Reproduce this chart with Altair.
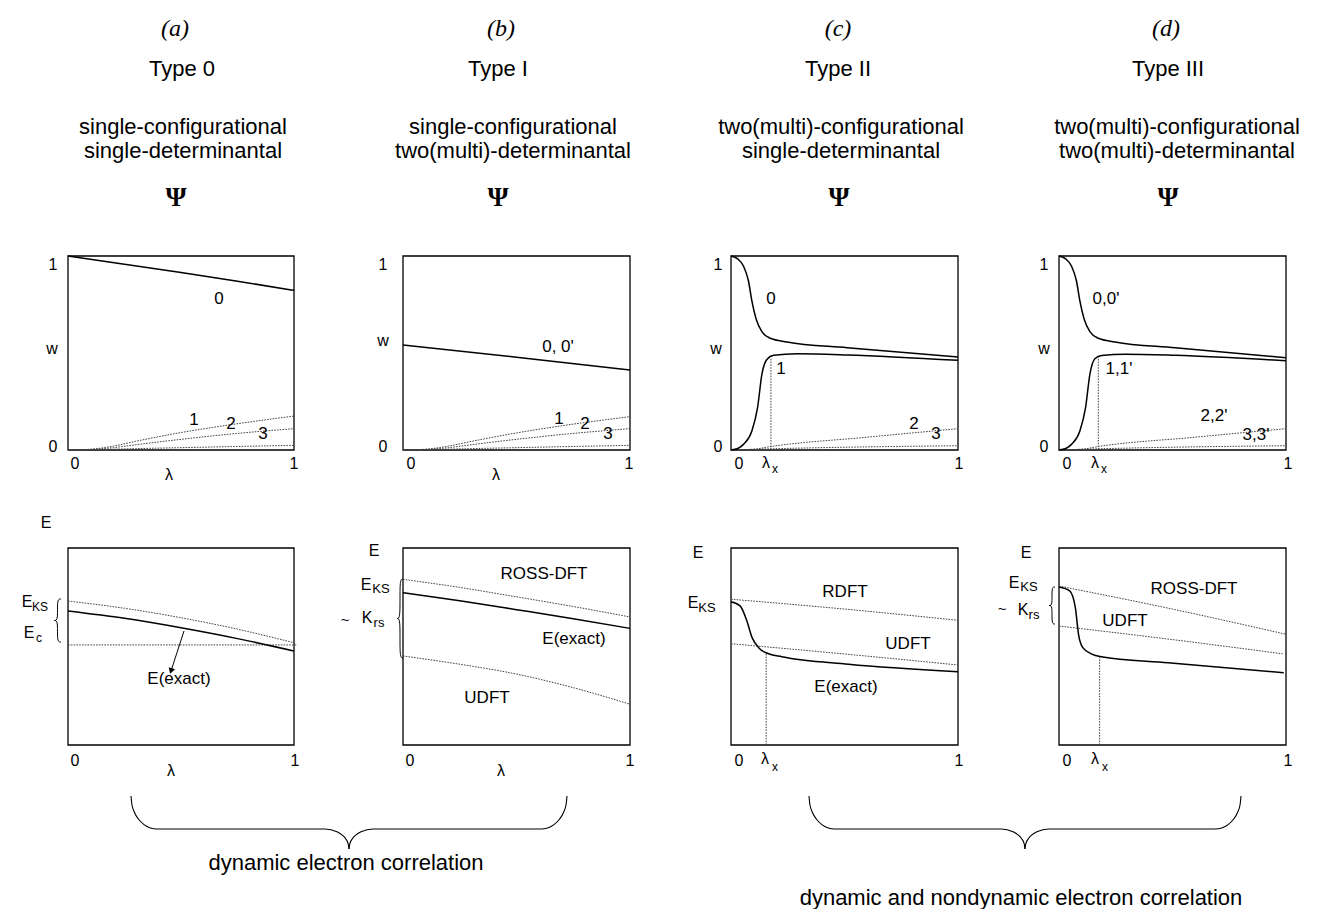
import altair as alt
import pandas as pd

SANS = "Liberation Sans"
SERIF = "Liberation Serif"

# ================= values =================
# ---- top row: configuration weights w(lambda) ----
A_LAM_0 = [0.0, 0.25, 0.5, 0.75, 1.0]
A_W_0 = [1.0, 0.958, 0.915, 0.870, 0.823]
A_LAM_S = [0.0, 0.1, 0.2, 0.3, 0.5, 0.7, 1.0]
A_W_1 = [0.0, 0.004, 0.020, 0.045, 0.090, 0.127, 0.175]
A_W_2 = [0.0, 0.003, 0.012, 0.027, 0.055, 0.080, 0.110]
A_W_3 = [0.0, 0.001, 0.004, 0.007, 0.012, 0.017, 0.024]

B_LAM_0 = [0.0, 0.5, 1.0]
B_W_0 = [0.541, 0.478, 0.412]
B_LAM_S = [0.0, 0.1, 0.2, 0.3, 0.5, 0.7, 1.0]
B_W_1 = [0.0, 0.004, 0.020, 0.044, 0.088, 0.125, 0.172]
B_W_2 = [0.0, 0.003, 0.012, 0.027, 0.055, 0.080, 0.110]
B_W_3 = [0.0, 0.001, 0.004, 0.007, 0.012, 0.017, 0.024]

C_LAM_0 = [0.0, 0.03, 0.055, 0.077, 0.092, 0.111, 0.136, 0.173, 0.247, 0.512, 1.0]
C_W_0 = [1.0, 0.985, 0.948, 0.871, 0.768, 0.674, 0.610, 0.576, 0.557, 0.527, 0.479]
C_LAM_1 = [0.0, 0.03, 0.055, 0.092, 0.117, 0.136, 0.158, 0.188, 0.291, 0.512, 1.0]
C_W_1 = [0.0, 0.008, 0.029, 0.098, 0.218, 0.390, 0.467, 0.488, 0.496, 0.490, 0.462]
C_LAM_2 = [0.0, 0.1, 0.176, 0.6, 1.0]
C_W_2 = [0.0, 0.004, 0.018, 0.066, 0.110]
C_LAM_3 = [0.0, 0.176, 1.0]
C_W_3 = [0.0, 0.006, 0.022]
C_LAM_X = [0.176, 0.176]
C_W_X = [0.0, 0.47]

D_LAM_0 = [0.0, 0.03, 0.055, 0.077, 0.092, 0.111, 0.136, 0.173, 0.247, 0.512, 1.0]
D_W_0 = [1.0, 0.985, 0.948, 0.871, 0.768, 0.674, 0.610, 0.576, 0.557, 0.527, 0.476]
D_LAM_1 = [0.0, 0.03, 0.055, 0.092, 0.117, 0.136, 0.158, 0.188, 0.291, 0.512, 1.0]
D_W_1 = [0.0, 0.008, 0.029, 0.098, 0.218, 0.390, 0.470, 0.487, 0.494, 0.488, 0.460]
D_LAM_2 = [0.0, 0.1, 0.173, 0.6, 1.0]
D_W_2 = [0.0, 0.004, 0.018, 0.066, 0.110]
D_LAM_3 = [0.0, 0.173, 1.0]
D_W_3 = [0.0, 0.006, 0.022]
D_LAM_X = [0.173, 0.173]
D_W_X = [0.0, 0.485]

# ---- bottom row: energies E(lambda) ----
EA_LAM = [0.0, 0.25, 0.5, 0.75, 1.0]
EA_KS = [0.731, 0.694, 0.646, 0.588, 0.519]
EA_EXACT = [0.680, 0.643, 0.595, 0.540, 0.477]
EA_C_LAM = [0.0, 1.01]
EA_C = [0.508, 0.508]

EB_LAM = [0.0, 0.25, 0.5, 0.75, 1.0]
EB_ROSS = [0.841, 0.800, 0.752, 0.703, 0.650]
EB_EXACT = [0.773, 0.732, 0.687, 0.641, 0.592]
EB_UDFT = [0.452, 0.410, 0.360, 0.291, 0.207]

EC_LAM_R = [0.0, 0.5, 1.0]
EC_RDFT = [0.740, 0.690, 0.633]
EC_UDFT = [0.514, 0.462, 0.406]
EC_LAM_E = [0.0, 0.04, 0.07, 0.093, 0.122, 0.166, 0.224, 0.518, 1.0]
EC_EXACT = [0.727, 0.706, 0.629, 0.545, 0.494, 0.463, 0.448, 0.410, 0.372]
EC_LAM_X = [0.155, 0.155]
EC_E_X = [0.0, 0.463]

ED_LAM_R = [0.0, 0.5, 1.0]
ED_ROSS = [0.807, 0.690, 0.562]
ED_LAM_U = [0.0, 0.5, 0.985]
ED_UDFT = [0.604, 0.535, 0.463]
ED_LAM_E = [0.0, 0.047, 0.072, 0.086, 0.105, 0.142, 0.186, 0.48, 0.99]
ED_EXACT = [0.802, 0.782, 0.697, 0.562, 0.494, 0.463, 0.448, 0.418, 0.367]
ED_LAM_X = [0.179, 0.179]
ED_E_X = [0.0, 0.446]

# ================= layout (page pixels of each frame) =================
COL_X = [67, 402, 730, 1058]
COL_W = [226, 227, 227, 227]
ROW_Y = [255, 547]
ROW_H = [194, 197]
EXTRA_A = 8  # first column is wider so that the others land in place


def to_data(px, py, col, row):
    return (px - COL_X[col]) / COL_W[col], (ROW_Y[row] + ROW_H[row] - py) / ROW_H[row]


# ---- annotation texts: (text, page x, page y, size, font) ----
HS = 22  # header text size
L1, L2 = 126, 150
HEAD = [
    [("(a)", 174, 28, 24, "it"), ("Type 0", 181, 68, HS, "sans"),
     ("single-configurational", 182, L1, HS, "sans"), ("single-determinantal", 182, L2, HS, "sans"),
     ("Ψ", 175, 197, 27, "psi")],
    [("(b)", 500, 28, 24, "it"), ("Type I", 497, 68, HS, "sans"),
     ("single-configurational", 512, L1, HS, "sans"), ("two(multi)-determinantal", 512, L2, HS, "sans"),
     ("Ψ", 497, 197, 27, "psi")],
    [("(c)", 837, 28, 24, "it"), ("Type II", 837, 68, HS, "sans"),
     ("two(multi)-configurational", 840, L1, HS, "sans"), ("single-determinantal", 840, L2, HS, "sans"),
     ("Ψ", 838, 197, 27, "psi")],
    [("(d)", 1165, 28, 24, "it"), ("Type III", 1167, 68, HS, "sans"),
     ("two(multi)-configurational", 1176, L1, HS, "sans"), ("two(multi)-determinantal", 1176, L2, HS, "sans"),
     ("Ψ", 1167, 197, 27, "psi")],
]

TOP_TXT = [
    [("1", 52, 264, 16, "sans"), ("w", 51, 348, 16, "sans"), ("0", 52, 446, 16, "sans"),
     ("0", 74, 463, 16, "sans"), ("λ", 168, 474, 16, "sans"), ("1", 293, 463, 16, "sans"),
     ("0", 218, 298, 17, "sans"), ("1", 193, 419, 17, "sans"), ("2", 230, 423, 17, "sans"), ("3", 262, 433, 17, "sans")],
    [("1", 382, 264, 16, "sans"), ("w", 382, 340, 16, "sans"), ("0", 382, 446, 16, "sans"),
     ("0", 410, 463, 16, "sans"), ("λ", 495, 474, 16, "sans"), ("1", 628, 463, 16, "sans"),
     ("0, 0'", 557, 346, 17, "sans"), ("1", 558, 418, 17, "sans"), ("2", 584, 423, 17, "sans"), ("3", 607, 433, 17, "sans")],
    [("1", 717, 264, 16, "sans"), ("w", 715, 348, 16, "sans"), ("0", 717, 446, 16, "sans"),
     ("0", 738, 463, 16, "sans"), ("λ", 765, 462, 16, "sans"), ("x", 774, 468, 12, "sans"), ("1", 958, 463, 16, "sans"),
     ("0", 770, 298, 17, "sans"), ("1", 780, 368, 17, "sans"), ("2", 913, 423, 17, "sans"), ("3", 935, 433, 17, "sans")],
    [("1", 1043, 264, 16, "sans"), ("w", 1043, 348, 16, "sans"), ("0", 1043, 446, 16, "sans"),
     ("0", 1066, 463, 16, "sans"), ("λ", 1094, 462, 16, "sans"), ("x", 1103, 468, 12, "sans"), ("1", 1287, 463, 16, "sans"),
     ("0,0'", 1105, 298, 17, "sans"), ("1,1'", 1118, 368, 17, "sans"), ("2,2'", 1213, 415, 17, "sans"), ("3,3'", 1255, 434, 17, "sans")],
]

BOT_TXT = [
    [("E", 45, 522, 16, "sans"), ("E", 26, 601, 16, "sans"), ("KS", 39, 606, 12, "sans"),
     ("E", 28, 632, 16, "sans"), ("c", 38, 637, 12, "sans"),
     ("E(exact)", 178, 678, 17, "sans"),
     ("0", 74, 760, 16, "sans"), ("λ", 170, 770, 16, "sans"), ("1", 294, 760, 16, "sans"),
     ("dynamic electron correlation", 345, 862, 22, "sans")],
    [("E", 373, 550, 16, "sans"), ("E", 365, 584, 16, "sans"), ("KS", 380, 588, 13, "sans"),
     ("~", 344, 619, 15, "sans"), ("K", 366, 617, 16, "sans"), ("rs", 378, 622, 13, "sans"),
     ("ROSS-DFT", 543, 573, 17, "sans"), ("E(exact)", 573, 638, 17, "sans"), ("UDFT", 486, 697, 17, "sans"),
     ("0", 409, 760, 16, "sans"), ("λ", 500, 770, 16, "sans"), ("1", 629, 760, 16, "sans")],
    [("E", 697, 552, 16, "sans"), ("E", 692, 602, 16, "sans"), ("KS", 706, 607, 13, "sans"),
     ("RDFT", 844, 591, 17, "sans"), ("UDFT", 907, 643, 17, "sans"), ("E(exact)", 845, 686, 17, "sans"),
     ("0", 738, 760, 16, "sans"), ("λ", 764, 758, 16, "sans"), ("x", 774, 766, 12, "sans"), ("1", 958, 760, 16, "sans"),
     ("dynamic and nondynamic electron correlation", 1020, 897, 22, "sans")],
    [("E", 1025, 552, 16, "sans"), ("E", 1013, 582, 16, "sans"), ("KS", 1028, 586, 13, "sans"),
     ("~", 1001, 608, 15, "sans"), ("K", 1022, 609, 16, "sans"), ("rs", 1033, 614, 13, "sans"),
     ("ROSS-DFT", 1193, 588, 17, "sans"), ("UDFT", 1124, 620, 17, "sans"),
     ("0", 1066, 760, 16, "sans"), ("λ", 1094, 758, 16, "sans"), ("x", 1104, 766, 12, "sans"), ("1", 1287, 760, 16, "sans")],
]

# big horizontal braces: (left x, right x, top y, tip y), host column
BIG_BRACES = [((130, 566, 795, 848), 0), ((808, 1240, 795, 848), 2)]
# half-brace outline as offsets (px) from its end, for a 436 px wide, 53 px deep brace
BR_DX = [0, 0.9, 3.5, 7.6, 13, 19.3, 26, 194, 206, 211, 214.8, 217.2, 218]
BR_DY = [0, 8.5, 16.5, 23.3, 28.6, 31.9, 33, 33, 35.7, 38.9, 43, 47.8, 53]
# small vertical braces: (tip x, end x, top y, bottom y)
SMALL_BRACES = {0: (53, 60, 598, 641), 1: (396, 402, 578, 657), 3: (1048, 1054, 586, 623)}
SB_U = [1, 0.5, 0.5, 0.5, 0]   # 1 = end side, 0 = tip side
SB_V = [0, 0, 0.25, 0.5, 0.5]
# arrow in panel (a) bottom: from, to (page px)
ARROW_A = ((183, 630), (170, 670))


def line_df(series):
    rows = []
    for k, (lx, ly) in enumerate(series):
        for i, (a, b) in enumerate(zip(lx, ly)):
            rows.append({"lam": a, "val": b, "key": k, "i": i})
    return pd.DataFrame(rows)


def panel(col, row, solid, dotted, texts, big=None, small=None, arrow=None, anchor=False):
    W = COL_W[col] + (EXTRA_A if col == 0 else 0)
    H = ROW_H[row]
    xs = alt.Scale(domain=[0, W / COL_W[col]], nice=False, zero=False)
    ys = alt.Scale(domain=[0, 1], nice=False, zero=False)

    def enc():
        return dict(x=alt.X("lam:Q", scale=xs, axis=None), y=alt.Y("val:Q", scale=ys, axis=None))

    layers = []
    frame = pd.DataFrame({"x0": [0.0], "x1": [1.0], "y0": [0.0], "y1": [1.0]})
    layers.append(alt.Chart(frame).mark_rect(fillOpacity=0, stroke="black", strokeWidth=1.3).encode(
        x=alt.X("x0:Q", scale=xs, axis=None), x2="x1:Q",
        y=alt.Y("y0:Q", scale=ys, axis=None), y2="y1:Q"))
    if dotted:
        layers.append(alt.Chart(line_df(dotted)).mark_line(
            color="#444", strokeWidth=1.0, strokeDash=[1.6, 1.2], interpolate="monotone").encode(
            **enc(), detail="key:N", order="i:Q"))
    if solid:
        layers.append(alt.Chart(line_df(solid)).mark_line(
            color="black", strokeWidth=1.5, interpolate="monotone").encode(
            **enc(), detail="key:N", order="i:Q"))
    if big is not None:
        xl, xr, yt, yb = big
        span = xr - xl
        lx, ly, rx, ry = [], [], [], []
        for dx, dy in zip(BR_DX, BR_DY):
            u, v = dx / 436.0, dy / 53.0
            a = to_data(xl + u * span, yt + v * (yb - yt), col, row)
            lx.append(a[0]); ly.append(a[1])
            b = to_data(xr - u * span, yt + v * (yb - yt), col, row)
            rx.insert(0, b[0]); ry.insert(0, b[1])
        layers.append(alt.Chart(line_df([(lx, ly), (rx, ry)])).mark_line(
            color="black", strokeWidth=1.1, interpolate="monotone").encode(
            **enc(), detail="key:N", order="i:Q"))
    if small is not None:
        xt, xe, yt, yb = small
        h = yb - yt
        up_x, up_y, lo_x, lo_y = [], [], [], []
        for u, v in zip(SB_U, SB_V):
            a = to_data(xt + u * (xe - xt), yt + v * h, col, row)
            up_x.append(a[0]); up_y.append(a[1])
            b = to_data(xt + u * (xe - xt), yb - v * h, col, row)
            lo_x.append(b[0]); lo_y.append(b[1])
        layers.append(alt.Chart(line_df([(up_x, up_y), (lo_x, lo_y)])).mark_line(
            color="black", strokeWidth=1.0, interpolate="basis").encode(
            **enc(), detail="key:N", order="i:Q"))
    if arrow is not None:
        p0 = to_data(*arrow[0], col, row)
        p1 = to_data(*arrow[1], col, row)
        layers.append(alt.Chart(line_df([([p0[0], p1[0]], [p0[1], p1[1]])])).mark_line(
            color="black", strokeWidth=1.0).encode(**enc(), detail="key:N", order="i:Q"))
        layers.append(alt.Chart(pd.DataFrame({"lam": [p1[0]], "val": [p1[1]]})).mark_point(
            shape="triangle-down", filled=True, color="black", size=45, angle=18, opacity=1).encode(**enc()))
    groups = {"sans": dict(font=SANS), "serif": dict(font=SERIF),
              "psi": dict(font=SERIF, fontWeight="bold"),
              "it": dict(font=SERIF, fontStyle="italic")}
    for key, style in groups.items():
        rows = []
        for t, px, py, sz, f in texts:
            if f == key:
                lam, val = to_data(px, py, col, row)
                rows.append({"lam": lam, "val": val, "text": t, "size": sz})
        if rows:
            layers.append(alt.Chart(pd.DataFrame(rows)).mark_text(
                align="center", baseline="middle", color="black", **style).encode(
                **enc(), text="text:N", size=alt.Size("size:Q", scale=None, legend=None)))
    if anchor:
        lam, val = to_data(8, 8, col, row)
        layers.append(alt.Chart(pd.DataFrame({"lam": [lam], "val": [val]})).mark_point(
            opacity=0, size=1).encode(**enc()))
    return alt.layer(*layers).properties(width=W, height=H)


top = [
    panel(0, 0, [(A_LAM_0, A_W_0)], [(A_LAM_S, A_W_1), (A_LAM_S, A_W_2), (A_LAM_S, A_W_3)],
          HEAD[0] + TOP_TXT[0], anchor=True),
    panel(1, 0, [(B_LAM_0, B_W_0)], [(B_LAM_S, B_W_1), (B_LAM_S, B_W_2), (B_LAM_S, B_W_3)],
          HEAD[1] + TOP_TXT[1]),
    panel(2, 0, [(C_LAM_0, C_W_0), (C_LAM_1, C_W_1)],
          [(C_LAM_2, C_W_2), (C_LAM_3, C_W_3), (C_LAM_X, C_W_X)], HEAD[2] + TOP_TXT[2]),
    panel(3, 0, [(D_LAM_0, D_W_0), (D_LAM_1, D_W_1)],
          [(D_LAM_2, D_W_2), (D_LAM_3, D_W_3), (D_LAM_X, D_W_X)], HEAD[3] + TOP_TXT[3]),
]
bottom = [
    panel(0, 1, [(EA_LAM, EA_EXACT)], [(EA_LAM, EA_KS), (EA_C_LAM, EA_C)], BOT_TXT[0],
          big=BIG_BRACES[0][0], small=SMALL_BRACES[0], arrow=ARROW_A),
    panel(1, 1, [(EB_LAM, EB_EXACT)], [(EB_LAM, EB_ROSS), (EB_LAM, EB_UDFT)], BOT_TXT[1],
          small=SMALL_BRACES[1]),
    panel(2, 1, [(EC_LAM_E, EC_EXACT)], [(EC_LAM_R, EC_RDFT), (EC_LAM_R, EC_UDFT), (EC_LAM_X, EC_E_X)],
          BOT_TXT[2], big=BIG_BRACES[1][0]),
    panel(3, 1, [(ED_LAM_E, ED_EXACT)], [(ED_LAM_R, ED_ROSS), (ED_LAM_U, ED_UDFT), (ED_LAM_X, ED_E_X)],
          BOT_TXT[3], small=SMALL_BRACES[3]),
]

chart = alt.concat(*(top + bottom), columns=4, spacing={"row": 98, "column": 101},
                   bounds="flush", align="each", padding=0).configure_view(stroke="transparent")

chart.save("out.html", embed_options={"renderer": "svg", "actions": False})
